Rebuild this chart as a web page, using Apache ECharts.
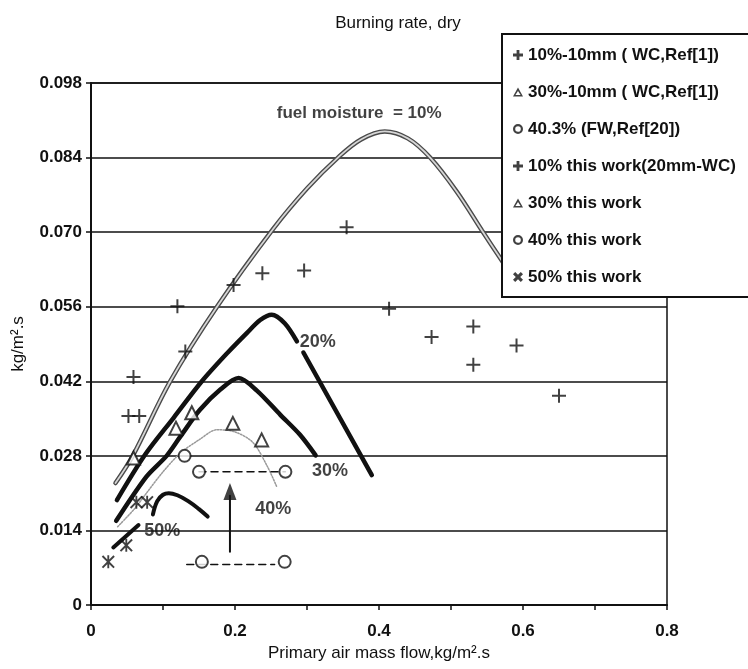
<!DOCTYPE html>
<html>
<head>
<meta charset="utf-8">
<script src="https://cdn.jsdelivr.net/npm/echarts/dist/echarts.min.js"></script>
<style>
  html, body { margin: 0; padding: 0; background: #fff; }
  #chart { width: 748px; height: 669px; }
</style>
</head>
<body>
<div id="chart"></div>
<script>
// Axis ticks
const xTicks = [0, 0.2, 0.4, 0.6, 0.8];
const yTicks = [0, 0.014, 0.028, 0.042, 0.056, 0.070, 0.084, 0.098];

// Measured points: [primary air mass flow, burning rate]
const plus10Ref1 = [[0.414, 0.0556], [0.473, 0.0503], [0.531, 0.0523], [0.531, 0.0451], [0.591, 0.0487], [0.650, 0.0393]];
const tri30Ref1 = [[0.197, 0.0341], [0.237, 0.0310]];
const circ403Ref20 = [[0.130, 0.0280]];
const plus10Work = [[0.052, 0.0355], [0.067, 0.0355], [0.059, 0.0428], [0.131, 0.0476], [0.120, 0.0561], [0.198, 0.0601], [0.238, 0.0623], [0.296, 0.0628], [0.355, 0.0709]];
const tri30Work = [[0.059, 0.0276], [0.118, 0.0332], [0.140, 0.0361]];
const circ40Work = [[0.150, 0.0250], [0.270, 0.0250], [0.154, 0.0081], [0.269, 0.0081]];
const star50Work = [[0.024, 0.0081], [0.049, 0.0112], [0.063, 0.0193], [0.078, 0.0193]];

// Fitted curves for each fuel moisture
const curve10 = [[0.034, 0.0229], [0.058, 0.028], [0.110, 0.042], [0.175, 0.056], [0.253, 0.0706], [0.300, 0.0782], [0.343, 0.0840], [0.375, 0.0874], [0.408, 0.0889], [0.440, 0.0876], [0.471, 0.0840], [0.508, 0.0776], [0.543, 0.0703], [0.568, 0.0652], [0.585, 0.0617]];
const curve20a = [[0.036, 0.0197], [0.075, 0.0282], [0.115, 0.0352], [0.154, 0.042], [0.190, 0.0474], [0.216, 0.0510], [0.235, 0.0535], [0.251, 0.0545], [0.269, 0.0529], [0.286, 0.0495]];
const curve20b = [[0.295, 0.0474], [0.390, 0.0244]];
const curve30 = [[0.035, 0.0158], [0.077, 0.0241], [0.105, 0.028], [0.124, 0.0316], [0.151, 0.0366], [0.180, 0.0405], [0.205, 0.0426], [0.230, 0.0403], [0.263, 0.0357], [0.290, 0.032], [0.312, 0.0281]];
const curve40 = [[0.037, 0.0147], [0.060, 0.018], [0.077, 0.021], [0.100, 0.025], [0.124, 0.0285], [0.150, 0.031], [0.175, 0.0329], [0.200, 0.0325], [0.225, 0.0305], [0.245, 0.026], [0.258, 0.0222]];
const curve50 = [[0.086, 0.0170], [0.092, 0.0195], [0.100, 0.0207], [0.108, 0.0210], [0.120, 0.0206], [0.135, 0.0195], [0.150, 0.0180], [0.162, 0.0166]];
const line50 = [[0.031, 0.0108], [0.066, 0.0150]];
const dash40a = [[0.150, 0.0250], [0.270, 0.0250]];
const dash40b = [[0.133, 0.0076], [0.255, 0.0076]];
const arrowShaft = [[0.193, 0.0100], [0.193, 0.0205]];
const arrowHead = [[0.193, 0.0213]];

// Curve labels
const notes = [
  { name: 'fuel moisture  = 10%', value: [0.258, 0.0924], size: 17 },
  { name: '20%', value: [0.290, 0.0494], size: 18 },
  { name: '30%', value: [0.307, 0.0252], size: 18 },
  { name: '40%', value: [0.228, 0.0180], size: 18 },
  { name: '50%', value: [0.074, 0.0139], size: 18 }
];

const FONT = '"Liberation Sans", Arial, Helvetica, sans-serif';
const INK = '#111';

const PLUS = 'path://M6,0H8V6H14V8H8V14H6V8H0V6H6Z';
const STAR = 'path://M0,1.5L1.5,0L7,5.5L12.5,0L14,1.5L8.5,7L14,12.5L12.5,14L7,8.5L1.5,14L0,12.5L5.5,7ZM6,0H8V14H6Z';
// heavier glyphs for the small legend icons
const PLUS_ICON = 'path://M3.6,0H6.4V3.6H10V6.4H6.4V10H3.6V6.4H0V3.6H3.6Z';
const X_ICON = 'path://M0,2.2L2.2,0L5,2.8L7.8,0L10,2.2L7.2,5L10,7.8L7.8,10L5,7.2L2.2,10L0,7.8L2.8,5Z';
const TRI_ICON = 'path://M5,0L10,9H0ZM5,3.6L2.4,7.4H7.6Z';
const CIRC_ICON = 'path://M5,0A5,5 0 1,1 4.99,0ZM5,2.2A2.8,2.8 0 1,0 5.01,2.2Z';

function pointSeries(name, data, symbol, size) {
  return {
    name, type: 'scatter', data, symbol, symbolSize: size,
    itemStyle: { color: INK }, z: 5, silent: true
  };
}
function curveSeries(data, color, width, type, smooth) {
  return {
    type: 'line', data, showSymbol: false, symbol: 'none', smooth: smooth,
    lineStyle: { color, width, type: type || 'solid', cap: 'round' }, z: 3, silent: true
  };
}

const chart = echarts.init(document.getElementById('chart'));

const legendNames = [
  '10%-10mm ( WC,Ref[1])',
  '30%-10mm ( WC,Ref[1])',
  '40.3% (FW,Ref[20])',
  '10% this work(20mm-WC)',
  '30% this work',
  '40% this work',
  '50% this work'
];
const legendIcons = [PLUS_ICON, TRI_ICON, CIRC_ICON, PLUS_ICON, TRI_ICON, CIRC_ICON, X_ICON];

chart.setOption({
  animation: false,
  backgroundColor: '#fff',
  title: {
    text: 'Burning rate, dry',
    left: 393, top: 10, textAlign: 'center',
    textStyle: { fontFamily: FONT, fontSize: 17, fontWeight: 'normal', color: INK }
  },
  grid: {
    left: 91, right: 81, top: 83, bottom: 64,
    show: true, borderColor: INK, borderWidth: 1.5, backgroundColor: 'transparent'
  },
  legend: {
    orient: 'vertical', left: 502, top: 34,
    padding: [11, 40, 10, 11],
    itemGap: 17, itemWidth: 10, itemHeight: 10,
    backgroundColor: '#fff', borderColor: INK, borderWidth: 2,
    textStyle: { fontFamily: FONT, fontSize: 17, fontWeight: 'bold', color: INK, lineHeight: 20 },
    data: legendNames.map((n, i) => ({ name: n, icon: legendIcons[i], itemStyle: { color: INK, borderWidth: 0 } }))
  },
  xAxis: {
    type: 'value', min: xTicks[0], max: xTicks[xTicks.length - 1], interval: 0.2,
    name: 'Primary air mass flow,kg/m².s', nameLocation: 'middle', nameGap: 35,
    nameTextStyle: { fontFamily: FONT, fontSize: 17, color: INK },
    axisLine: { lineStyle: { color: INK, width: 2 } },
    axisTick: { show: true, length: 5, lineStyle: { color: INK, width: 1.5 } },
    minorTick: { show: true, splitNumber: 2, length: 5, lineStyle: { color: INK, width: 1.5 } },
    splitLine: { show: false },
    axisLabel: {
      margin: 18, fontFamily: FONT, fontSize: 17, fontWeight: 'bold', color: INK,
      formatter: v => { const t = xTicks.find(k => Math.abs(k - v) < 1e-9); return t === 0 ? '0' : String(t); }
    }
  },
  yAxis: {
    type: 'value', min: yTicks[0], max: yTicks[yTicks.length - 1], interval: 0.014,
    name: 'kg/m².s', nameLocation: 'middle', nameGap: 64,
    nameTextStyle: { fontFamily: FONT, fontSize: 17, color: INK },
    axisLine: { show: true, lineStyle: { color: INK, width: 2 } },
    axisTick: { show: true, length: 5, lineStyle: { color: INK, width: 1.5 } },
    splitLine: { show: true, lineStyle: { color: INK, width: 1.5 } },
    axisLabel: {
      margin: 9, fontFamily: FONT, fontSize: 17, fontWeight: 'bold', color: INK,
      formatter: v => { const t = yTicks.find(k => Math.abs(k - v) < 1e-9); return t === 0 ? '0' : t.toFixed(3); }
    }
  },
  series: [
    // 10 % moisture curve drawn as a hollow double line
    curveSeries(curve10, '#4a4a4a', 4.5, 'solid', 0.35),
    curveSeries(curve10, '#d6d6d6', 1.8, 'solid', 0.35),
    curveSeries(curve20a, INK, 4.5, 'solid', 0.3),
    curveSeries(curve20b, INK, 4.5, 'solid', false),
    curveSeries(curve30, INK, 4.5, 'solid', 0.3),
    curveSeries(curve40, '#9a9a9a', 1.5, 'dotted', 0.3),
    curveSeries(curve50, INK, 4, 'solid', 0.4),
    curveSeries(line50, INK, 4, 'solid', false),
    curveSeries(dash40a, INK, 1.5, [7, 5], false),
    curveSeries(dash40b, INK, 1.5, [7, 5], false),
    curveSeries(arrowShaft, INK, 2, 'solid', false),
    {
      type: 'scatter', data: arrowHead, symbol: 'triangle', symbolSize: [13, 17],
      itemStyle: { color: INK }, z: 4, silent: true
    },
    pointSeries(legendNames[0], plus10Ref1, PLUS, 14),
    pointSeries(legendNames[1], tri30Ref1, 'emptyTriangle', 13),
    pointSeries(legendNames[2], circ403Ref20, 'emptyCircle', 12),
    pointSeries(legendNames[3], plus10Work, PLUS, 14),
    pointSeries(legendNames[4], tri30Work, 'emptyTriangle', 13),
    pointSeries(legendNames[5], circ40Work, 'emptyCircle', 12),
    pointSeries(legendNames[6], star50Work, STAR, 13),
    {
      type: 'scatter', symbolSize: 0, silent: true, z: 6,
      data: notes.map(n => ({
        name: n.name, value: n.value,
        label: { fontSize: n.size }
      })),
      label: {
        show: true, position: 'right', distance: 0, formatter: '{b}',
        fontFamily: FONT, fontWeight: 'bold', color: INK
      }
    }
  ]
});
</script>
</body>
</html>
